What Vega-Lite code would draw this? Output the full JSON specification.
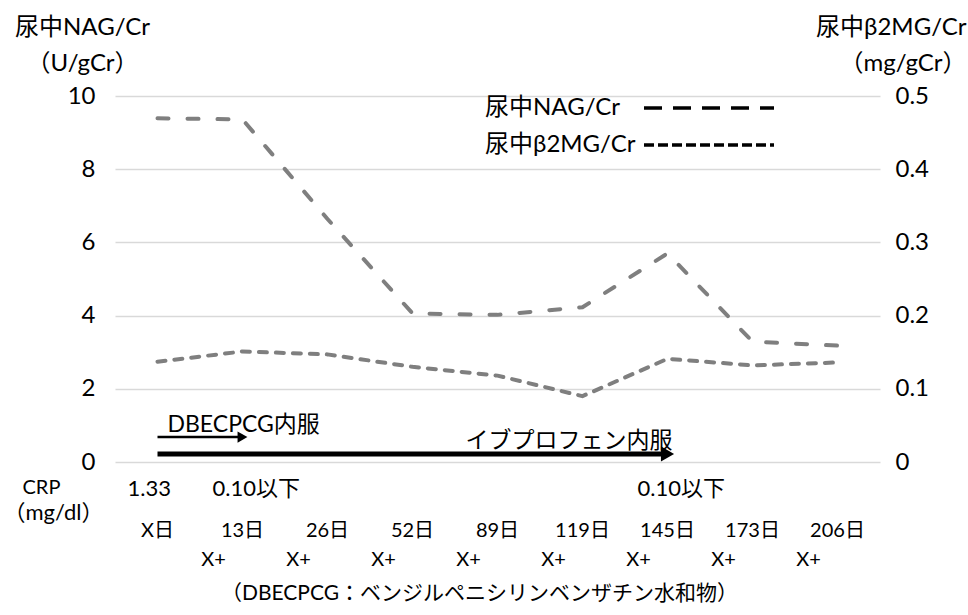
{
  "$schema": "https://vega.github.io/schema/vega-lite/v6.json",
  "width": 765,
  "height": 366,
  "autosize": "none",
  "padding": {"left": 115, "top": 96, "right": 88, "bottom": 153},
  "background": "white",
  "config": {
    "view": {"stroke": null},
    "font": "Lato, 'Noto Sans CJK JP'",
    "text": {"font": "Lato, 'Noto Sans CJK JP'", "color": "#000"}
  },
  "data": {
    "values": [
      {"day": "X日", "nag": 9.39, "b2mg": 0.137, "crp": "1.33"},
      {"day": "13日", "nag": 9.36, "b2mg": 0.151, "crp": "0.10以下"},
      {"day": "26日", "nag": 6.64, "b2mg": 0.147, "crp": ""},
      {"day": "52日", "nag": 4.06, "b2mg": 0.130, "crp": ""},
      {"day": "89日", "nag": 4.02, "b2mg": 0.118, "crp": ""},
      {"day": "119日", "nag": 4.23, "b2mg": 0.090, "crp": ""},
      {"day": "145日", "nag": 5.70, "b2mg": 0.141, "crp": "0.10以下"},
      {"day": "173日", "nag": 3.29, "b2mg": 0.132, "crp": ""},
      {"day": "206日", "nag": 3.18, "b2mg": 0.136, "crp": ""}
    ]
  },
  "encoding": {
    "x": {
      "field": "day",
      "type": "ordinal",
      "sort": null,
      "scale": {"type": "point", "padding": 0.5, "domain": ["X日", "13日", "26日", "52日", "89日", "119日", "145日", "173日", "206日"]},
      "axis": null
    }
  },
  "layer": [
    {
      "layer": [
        {
          "mark": {"type": "line", "color": "#7f7f7f", "strokeWidth": 4, "strokeCap": "round", "strokeDash": [11, 19]},
          "encoding": {
            "y": {
              "field": "nag",
              "type": "quantitative",
              "scale": {"domain": [0, 10], "nice": false, "zero": false},
              "axis": {
                "values": [0, 1, 2, 3, 4, 5, 6, 7, 8, 9, 10],
                "labelExpr": "datum.value % 2 === 0 ? datum.label : ''",
                "grid": true,
                "gridColor": "#d9d9d9",
                "gridWidth": 1.3,
                "domain": false,
                "ticks": false,
                "labelPadding": 20,
                "labelFontSize": 24,
                "labelColor": "#000",
                "labelFont": "Lato",
                "title": ["尿中NAG/Cr", "（U/gCr）"],
                "titleAngle": 0,
                "titleAlign": "center",
                "titleBaseline": "middle",
                "titleX": -33,
                "titleY": -69,
                "titleFontSize": 24,
                "titleFontWeight": "normal",
                "titleLineHeight": 36,
                "titleColor": "#000"
              }
            }
          }
        },
        {
          "data": {"values": []},
          "mark": {"type": "line", "color": "black", "strokeWidth": 3, "strokeCap": "butt"},
          "encoding": {
            "x": {"datum": "X日", "type": "ordinal"},
            "y": {"datum": 0, "type": "quantitative"},
            "strokeDash": {
              "datum": "尿中NAG/Cr",
              "type": "nominal",
              "scale": {"domain": ["尿中NAG/Cr", "尿中β2MG/Cr"], "range": [[18, 11], [10, 4]]},
              "legend": {
                "title": null,
                "orient": "none",
                "legendX": 579,
                "legendY": -3,
                "padding": 0,
                "symbolType": "M-5,0H5",
                "symbolSize": 676,
                "symbolStrokeWidth": 3.3,
                "symbolStrokeColor": "black",
                "symbolFillColor": "transparent",
                "labelFontSize": 24,
                "labelColor": "#000",
                "labelOffset": -239,
                "labelAlign": "left",
                "rowPadding": 10
              }
            }
          }
        },
        {
          "data": {"values": [{}]},
          "mark": {"type": "rule", "color": "black", "strokeWidth": 2.5},
          "encoding": {
            "x": {"datum": "X日", "type": "ordinal"},
            "x2": {"datum": "13日"},
            "y": {"datum": 0.68, "type": "quantitative"}
          }
        },
        {
          "data": {"values": [{}]},
          "mark": {"type": "point", "shape": "triangle-right", "filled": true, "color": "black", "opacity": 1, "size": 130, "dx": 10},
          "encoding": {
            "x": {"datum": "13日", "type": "ordinal"},
            "y": {"datum": 0.68, "type": "quantitative"}
          }
        },
        {
          "data": {"values": [{}]},
          "mark": {"type": "rule", "color": "black", "strokeWidth": 5},
          "encoding": {
            "x": {"datum": "X日", "type": "ordinal"},
            "x2": {"datum": "145日"},
            "y": {"datum": 0.22, "type": "quantitative"}
          }
        },
        {
          "data": {"values": [{}]},
          "mark": {"type": "point", "shape": "triangle-right", "filled": true, "color": "black", "opacity": 1, "size": 230, "dx": 0},
          "encoding": {
            "x": {"datum": "145日", "type": "ordinal"},
            "y": {"datum": 0.22, "type": "quantitative"}
          }
        },
        {
          "data": {"values": [{}]},
          "mark": {"type": "text", "text": "DBECPCG内服", "align": "left", "baseline": "middle", "fontSize": 23, "dx": 10},
          "encoding": {
            "x": {"datum": "X日", "type": "ordinal"},
            "y": {"datum": 1.01, "type": "quantitative"}
          }
        },
        {
          "data": {"values": [{}]},
          "mark": {"type": "text", "text": "イブプロフェン内服", "align": "right", "baseline": "middle", "fontSize": 23, "dx": 5},
          "encoding": {
            "x": {"datum": "145日", "type": "ordinal"},
            "y": {"datum": 0.57, "type": "quantitative"}
          }
        },
        {
          "transform": [{"filter": "datum.crp !== ''"}],
          "mark": {"type": "text", "align": "left", "baseline": "middle", "fontSize": 22, "dx": -30},
          "encoding": {
            "text": {"field": "crp"},
            "y": {"datum": -0.74, "type": "quantitative"}
          }
        },
        {
          "mark": {"type": "text", "align": "center", "baseline": "middle", "fontSize": 20},
          "encoding": {
            "text": {"field": "day"},
            "y": {"datum": -1.88, "type": "quantitative"}
          }
        },
        {
          "transform": [{"filter": "datum.day !== 'X日'"}],
          "mark": {"type": "text", "text": "X+", "align": "center", "baseline": "middle", "fontSize": 20, "dx": -29},
          "encoding": {
            "y": {"datum": -2.68, "type": "quantitative"}
          }
        },
        {
          "data": {"values": [{}]},
          "mark": {"type": "text", "text": "CRP", "align": "left", "baseline": "middle", "fontSize": 20, "dx": -135},
          "encoding": {
            "x": {"datum": "X日", "type": "ordinal"},
            "y": {"datum": -0.72, "type": "quantitative"}
          }
        },
        {
          "data": {"values": [{}]},
          "mark": {"type": "text", "text": "（mg/dl）", "align": "left", "baseline": "middle", "fontSize": 22, "dx": -154},
          "encoding": {
            "x": {"datum": "X日", "type": "ordinal"},
            "y": {"datum": -1.38, "type": "quantitative"}
          }
        },
        {
          "data": {"values": [{}]},
          "mark": {"type": "text", "text": "（DBECPCG：ベンジルペニシリンベンザチン水和物）", "align": "center", "baseline": "middle", "fontSize": 21, "dx": -18},
          "encoding": {
            "x": {"datum": "89日", "type": "ordinal"},
            "y": {"datum": -3.62, "type": "quantitative"}
          }
        }
      ]
    },
    {
      "mark": {"type": "line", "color": "#7f7f7f", "strokeWidth": 4, "strokeCap": "round", "strokeDash": [8, 9]},
      "encoding": {
        "y": {
          "field": "b2mg",
          "type": "quantitative",
          "scale": {"domain": [0, 0.5], "nice": false, "zero": false},
          "axis": {
            "orient": "right",
            "values": [0, 0.1, 0.2, 0.3, 0.4, 0.5],
            "labelExpr": "datum.value === 0 ? '0' : format(datum.value, '.1f')",
            "grid": false,
            "domain": false,
            "ticks": false,
            "labelPadding": 15,
            "labelFontSize": 24,
            "labelColor": "#000",
            "labelFont": "Lato",
            "title": ["尿中β2MG/Cr", "（mg/gCr）"],
            "titleAngle": 0,
            "titleAlign": "right",
            "titleBaseline": "middle",
            "titleX": 86,
            "titleY": -69,
            "titleFontSize": 24,
            "titleFontWeight": "normal",
            "titleLineHeight": 36,
            "titleColor": "#000"
          }
        }
      }
    }
  ],
  "resolve": {"scale": {"y": "independent"}}
}
